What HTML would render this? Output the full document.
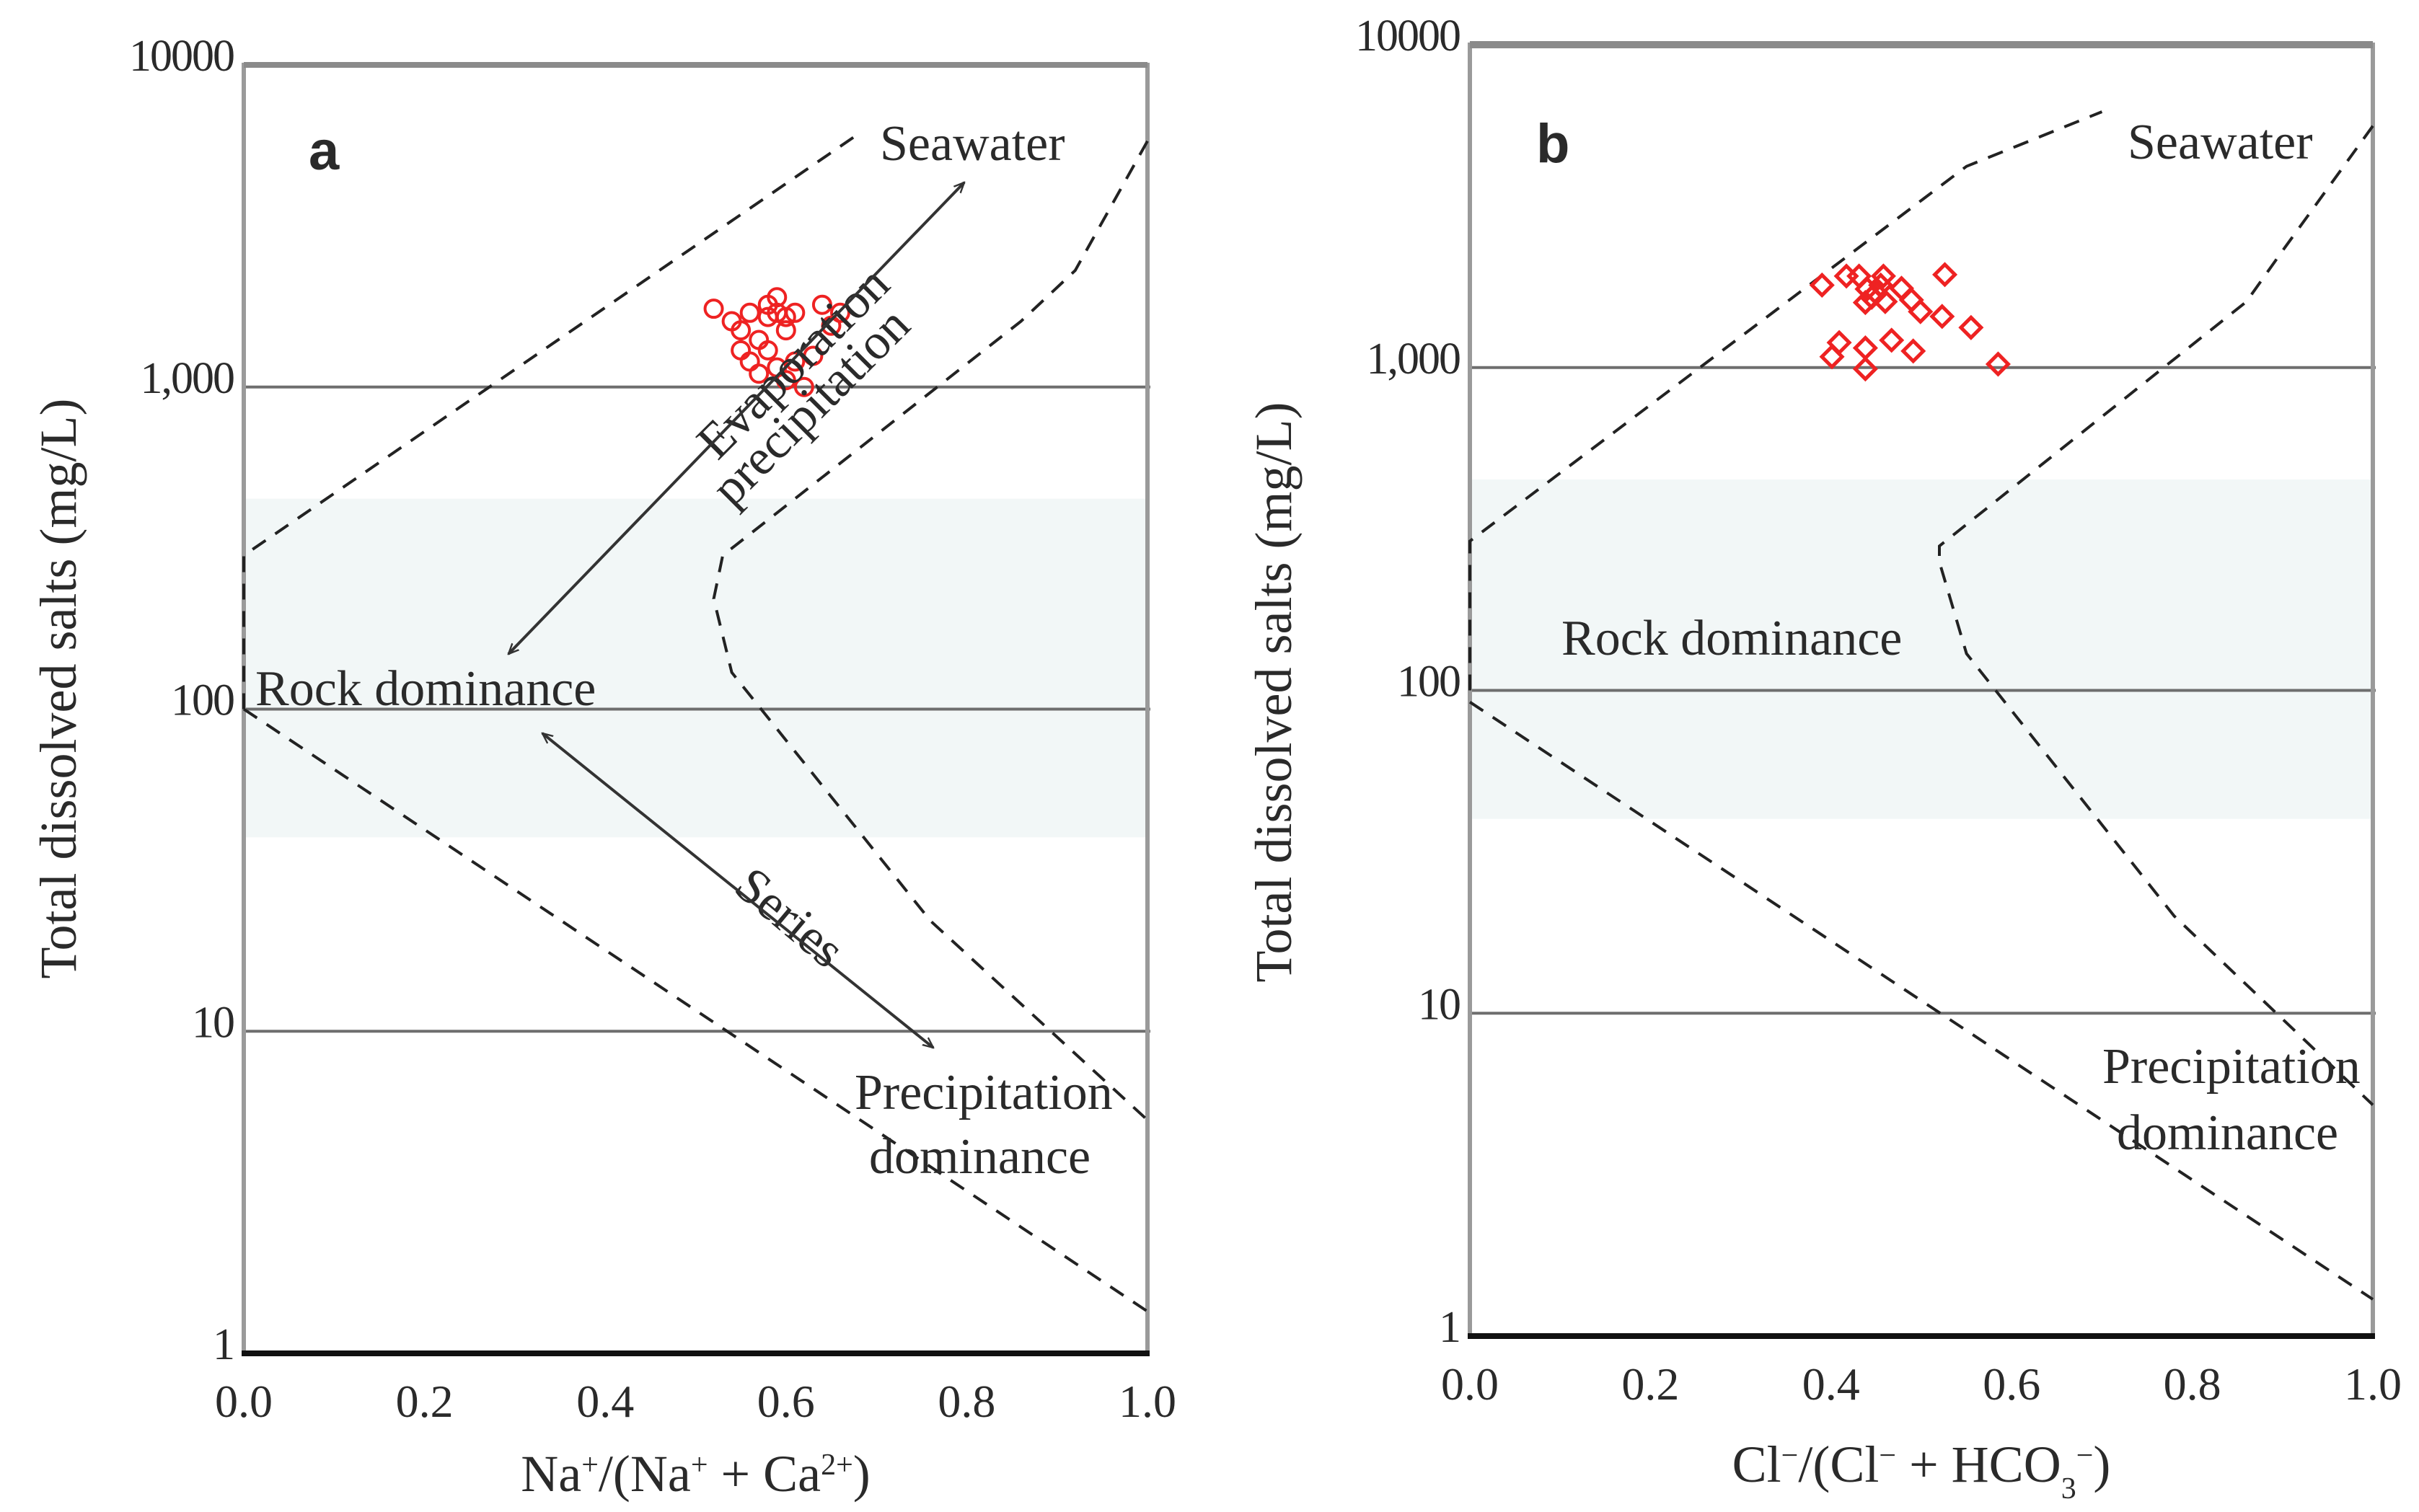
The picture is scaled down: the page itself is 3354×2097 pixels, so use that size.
<!DOCTYPE html>
<html><head><meta charset="utf-8"><style>
html,body{margin:0;padding:0;background:#fff;}
svg{display:block;}
text{font-family:"Liberation Serif",serif;fill:#2a2a2a;}
</style></head>
<body>
<svg id="fig" width="3354" height="2097" viewBox="0 0 3354 2097" xmlns="http://www.w3.org/2000/svg">
<defs>
<marker id="ah" viewBox="0 0 20 20" refX="18" refY="10" markerWidth="16" markerHeight="16" markerUnits="userSpaceOnUse" orient="auto-start-reverse">
<path d="M0,2 L18,10 L0,18" fill="none" stroke="#333" stroke-width="3"/>
</marker>
</defs>
</svg>
<script>
// ---------- data ----------
const yTicks = [1, 10, 100, 1000, 10000];
const yTickLabels = ["1", "10", "100", "1,000", "10000"];
const xTicks = [0, 0.2, 0.4, 0.6, 0.8, 1.0];
const xTickLabels = ["0.0", "0.2", "0.4", "0.6", "0.8", "1.0"];

const aPointsX = [0.52,0.54,0.55,0.56,0.57,0.58,0.59,0.60,0.61,0.58,0.56,0.57,0.59,0.60,0.62,0.63,0.61,0.65,0.66,0.55,0.60,0.64,0.58,0.59];
const aPointsY = [1750,1600,1500,1700,1400,1800,1900,1650,1700,1300,1200,1100,1150,1050,1000,1250,1200,1550,1700,1300,1500,1800,1650,1700];

const bPointsX = [0.39,0.431,0.438,0.458,0.478,0.489,0.499,0.523,0.526,0.555,0.585,0.409,0.401,0.438,0.438,0.467,0.491,0.417,0.44,0.45,0.445,0.455,0.46];
const bPointsY = [1800,1920,1590,1920,1760,1620,1490,1440,1940,1330,1025,1195,1080,1150,990,1215,1125,1920,1750,1700,1650,1800,1600];

// boundary curves (x, TDS)
const upperCurveA_X = [0, 0, 0.68];
const upperCurveA_Y = [100, 300, 6100];
const lowerCurveA_X = [0, 1.0];
const lowerCurveA_Y = [100, 1.35];
const rightCurveA_X = [1.0, 0.92, 0.86, 0.53, 0.52, 0.54, 0.76, 1.0];
const rightCurveA_Y = [5800, 2300, 1600, 300, 220, 130, 22, 5.3];

const upperCurveB_X = [0, 0, 0.55, 0.7];
const upperCurveB_Y = [100, 290, 4200, 6200];
const lowerCurveB_X = [0, 1.0];
const lowerCurveB_Y = [92, 1.3];
const rightCurveB_X = [1.0, 0.9, 0.86, 0.52, 0.52, 0.55, 0.78, 1.0];
const rightCurveB_Y = [5600, 2300, 1600, 280, 250, 130, 20, 5.2];

// ---------- helpers ----------
const NS = "http://www.w3.org/2000/svg";
const svg = document.getElementById("fig");
function mk(tag, attrs, parent){
  const e = document.createElementNS(NS, tag);
  for (const k in attrs) e.setAttribute(k, attrs[k]);
  (parent||svg).appendChild(e);
  return e;
}

function panel(cfg){
  const g = mk("g", {});
  
  
  const xs = v => cfg.x0 + v*(cfg.x1-cfg.x0);
  const ys = v => cfg.y1 - Math.log10(v)*(cfg.y1-cfg.y0)/4;

  const band = mk("rect", {x:cfg.x0, y:ys(450), width:cfg.x1-cfg.x0, height:ys(40)-ys(450), fill:"#f2f7f7"}, g);
  
  

  yTicks.forEach((t,i)=>{
    if (t===1 || t===10000) return;
    const l = mk("line", {x1:cfg.x0, x2:cfg.x1+4, y1:ys(t), y2:ys(t), stroke:"#6e6e6e", "stroke-width":4}, g);
    
    
  });
  const fr = mk("path", {d:`M${cfg.x0},${ys(1)} L${cfg.x0},${ys(10000)} L${cfg.x1},${ys(10000)} L${cfg.x1},${ys(1)}`, fill:"none", stroke:"#9a9a9a", "stroke-width":6}, g);
  
  
  const top = mk("line", {x1:cfg.x0, x2:cfg.x1, y1:ys(10000), y2:ys(10000), stroke:"#8a8a8a", "stroke-width":cfg.topW}, g);
  
  
  const bot = mk("line", {x1:cfg.x0-3, x2:cfg.x1+3, y1:ys(1), y2:ys(1), stroke:"#111", "stroke-width":8}, g);
  
  

  yTicks.forEach((t,i)=>{
    const tx = mk("text", {x:cfg.x0-14, y:ys(t)+8, "font-size":62, "text-anchor":"end", "letter-spacing":"-2"}, g);
    tx.textContent = yTickLabels[i];
    
    
  });
  xTicks.forEach((t,i)=>{
    const tx = mk("text", {x:xs(t), y:ys(1)+88, "font-size":64, "text-anchor":"middle"}, g);
    tx.textContent = xTickLabels[i];
    
    
  });

  function curve(X, Y, name){
    const d = X.map((x,i)=>(i?"L":"M")+xs(x).toFixed(1)+","+ys(Y[i]).toFixed(1)).join(" ");
    const p = mk("path", {d, fill:"none", stroke:"#222", "stroke-width":4, "stroke-dasharray":"22 16"}, g);
    
    
  }
  curve(cfg.upX, cfg.upY, 'upper-boundary-curve');
  curve(cfg.loX, cfg.loY, 'lower-boundary-curve');
  curve(cfg.rtX, cfg.rtY, 'right-boundary-curve');

  cfg.px.forEach((x,i)=>{
    const cx = xs(x), cy = ys(cfg.py[i]);
    let m;
    if (cfg.marker==="circle"){
      m = mk("circle", {cx, cy, r:12, fill:"none", stroke:"#ee2222", "stroke-width":4}, g);
    } else {
      m = mk("path", {d:`M${cx},${cy-14} L${cx+14},${cy} L${cx},${cy+14} L${cx-14},${cy} Z`, fill:"none", stroke:"#ee2222", "stroke-width":5}, g);
    }
    
    
  });

  const lt = mk("text", {x:cfg.letterX, y:cfg.letterY, "font-size":76, "font-weight":"bold", style:"font-family:'Liberation Sans',sans-serif", fill:"#000"}, g);
  lt.textContent = cfg.letter;
  
  

  const yt = mk("text", {x:0, y:0, "font-size":72, "text-anchor":"middle", transform:`translate(${cfg.ytX},${cfg.ytY}) rotate(-90)`}, g);
  yt.textContent = "Total dissolved salts (mg/L)";
  
  

  const xt = mk("text", {x:(cfg.x0+cfg.x1)/2, y:cfg.xtY, "font-size":72, "text-anchor":"middle"}, g);
  xt.innerHTML = cfg.xTitle;
  
  
  return {g, xs, ys};
}

const A = panel({name:"panel-a", x0:338, x1:1591, y0:90, y1:1877, topW:8,
  upX:upperCurveA_X, upY:upperCurveA_Y, loX:lowerCurveA_X, loY:lowerCurveA_Y, rtX:rightCurveA_X, rtY:rightCurveA_Y,
  px:aPointsX, py:aPointsY, marker:"circle", letter:"a", letterX:428, letterY:235, ytX:105, ytY:955, xtY:2068,
  xTitle:'Na<tspan baseline-shift="super" font-size="42">+</tspan>/(Na<tspan baseline-shift="super" font-size="42">+</tspan> + Ca<tspan baseline-shift="super" font-size="42">2+</tspan>)'});
const B = panel({name:"panel-b", x0:2038, x1:3290, y0:62, y1:1853, topW:10,
  upX:upperCurveB_X, upY:upperCurveB_Y, loX:lowerCurveB_X, loY:lowerCurveB_Y, rtX:rightCurveB_X, rtY:rightCurveB_Y,
  px:bPointsX, py:bPointsY, marker:"diamond", letter:"b", letterX:2130, letterY:225, ytX:1790, ytY:960, xtY:2055,
  xTitle:'Cl<tspan baseline-shift="super" font-size="42">−</tspan>/(Cl<tspan baseline-shift="super" font-size="42">−</tspan> + HCO<tspan baseline-shift="sub" font-size="42">3</tspan><tspan baseline-shift="super" font-size="42">−</tspan>)'});

function label(G, txt, x, y, name, extra){
  const t = mk("text", Object.assign({x, y, "font-size":70}, extra||{}), G.g);
  t.textContent = txt;
  
  
}
label(A, "Seawater", 1220, 222, "seawater-label");
label(A, "Rock dominance", 354, 978, "rock-dominance-label");
label(A, "Precipitation", 1185, 1538, "precipitation-label");
label(A, "dominance", 1205, 1627, "precipitation-dominance-label");
label(A, "Evaporation", 0, 0, "evaporation-label", {transform:"translate(995,640) rotate(-45)"});
label(A, "precipitation", 0, 0, "precipitation-arrow-label", {transform:"translate(1015,705) rotate(-45)"});
label(A, "Series", 0, 0, "series-label", {transform:"translate(1015,1235) rotate(40)"});
label(B, "Seawater", 2950, 220, "seawater-label");
label(B, "Rock dominance", 2165, 908, "rock-dominance-label");
label(B, "Precipitation", 2915, 1502, "precipitation-label");
label(B, "dominance", 2935, 1594, "precipitation-dominance-label");

const ar1 = mk("line", {x1:705, y1:907, x2:1337, y2:253, stroke:"#333", "stroke-width":4, "marker-start":"url(#ah)", "marker-end":"url(#ah)"}, A.g);


const ar2 = mk("line", {x1:752, y1:1017, x2:1294, y2:1453, stroke:"#333", "stroke-width":4, "marker-start":"url(#ah)", "marker-end":"url(#ah)"}, A.g);


</script>
</body></html>
